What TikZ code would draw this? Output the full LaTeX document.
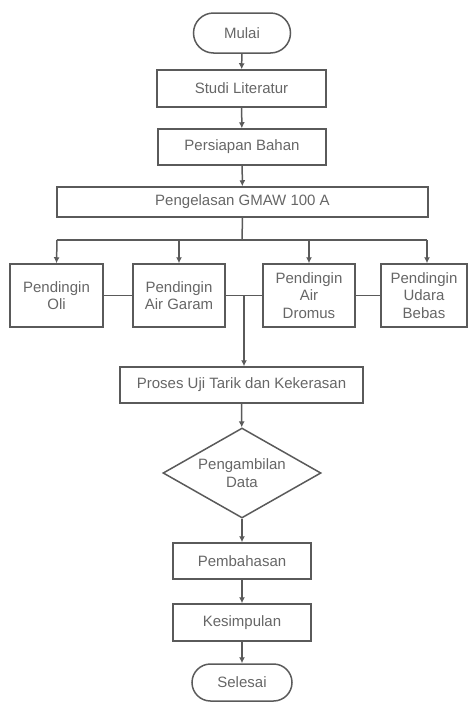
\documentclass[tikz,border=0pt]{standalone}
\usepackage{fontspec}
\setmainfont{Liberation Sans}
\usetikzlibrary{shapes.geometric,shapes.misc,arrows.meta}
\definecolor{ln}{HTML}{5A5A5A}
\definecolor{tx}{HTML}{666666}
\begin{document}
\begin{tikzpicture}[x=1pt,y=-1pt,
  base/.style={draw=ln,line width=1.5pt,text=tx,font=\fontsize{15}{17.5}\selectfont,align=center,inner sep=0pt},
  proc/.style={base,rectangle},
  term/.style={base,rounded rectangle},
  dec/.style={base,diamond,aspect=1.75},
  conn/.style={draw=ln,line width=1.5pt},
  arr/.style={conn,-{Latex[length=6pt,width=6pt]}}]
\useasboundingbox (0,0) rectangle (468,702);
\node[term,minimum width=97pt,minimum height=40pt] (mulai) at (242,33) {Mulai};
\node[proc,minimum width=169pt,minimum height=37pt] (studi) at (241.5,88.5) {Studi Literatur};
\node[proc,minimum width=168pt,minimum height=36pt] (persiapan) at (242,147) {Persiapan Bahan};
\node[proc,minimum width=371pt,minimum height=30pt] (las) at (242.5,202) {Pengelasan GMAW 100 A};
\node[proc,minimum width=93pt,minimum height=63pt] (oli) at (56.5,295.5) {Pendingin\\Oli};
\node[proc,minimum width=92pt,minimum height=63pt] (garam) at (179,295.5) {Pendingin\\Air Garam};
\node[proc,minimum width=92pt,minimum height=63pt] (dromus) at (309,295.5) {Pendingin\\Air\\Dromus};
\node[proc,minimum width=86pt,minimum height=63pt] (udara) at (424,295.5) {Pendingin\\Udara\\Bebas};
\node[proc,minimum width=243pt,minimum height=36pt] (proses) at (241.5,385) {Proses Uji Tarik dan Kekerasan};
\node[dec,minimum width=158pt,minimum height=90pt] (data) at (242,473) {Pengambilan\\Data};
\node[proc,minimum width=138pt,minimum height=36pt] (bahas) at (242,561) {Pembahasan};
\node[proc,minimum width=138pt,minimum height=37pt] (simpul) at (242,622.5) {Kesimpulan};
\node[term,minimum width=100pt,minimum height=37pt] (selesai) at (242,682.5) {Selesai};
\coordinate (br) at (242,240);
\coordinate (bl) at (57,240);
\coordinate (brr) at (427,240);
\coordinate (j) at (244,296);
\draw[arr] (mulai) -- (studi);
\draw[arr] (studi) -- (persiapan);
\draw[arr] (persiapan) -- (las);
\draw[conn] (las.south) -- (br);
\draw[conn] (bl) -- (brr);
\draw[arr] (bl) -- (oli.north);
\draw[arr] (garam.north |- br) -- (garam.north);
\draw[arr] (dromus.north |- br) -- (dromus.north);
\draw[arr] (brr) -- (brr |- udara.north);
\draw[conn] (oli.east) -- (garam.west);
\draw[conn] (garam.east) -- (dromus.west);
\draw[conn] (dromus.east) -- (udara.west);
\draw[arr] (j) -- (j |- proses.north);
\draw[arr] (proses) -- (data);
\draw[arr] (data) -- (bahas);
\draw[arr] (bahas) -- (simpul);
\draw[arr] (simpul) -- (selesai);
\end{tikzpicture}
\end{document}
